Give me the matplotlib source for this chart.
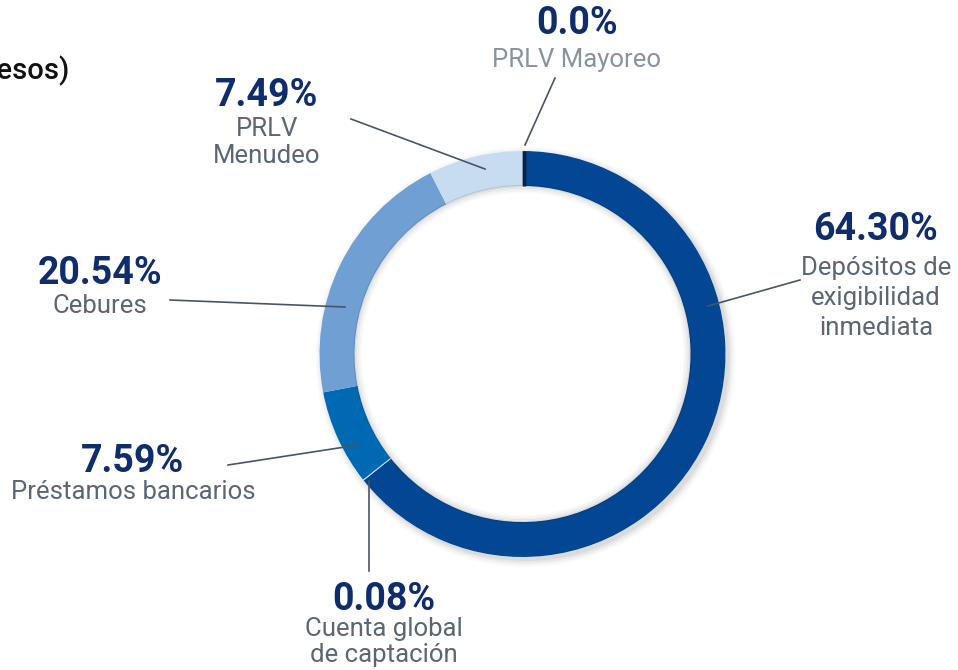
import matplotlib.pyplot as plt
import numpy as np

plt.rcParams['font.family'] = ['Roboto', 'DejaVu Sans']

# Datos de la captación (%)
categorias = ['Depósitos de\nexigibilidad\ninmediata', 'Cuenta global\nde captación',
              'Préstamos bancarios', 'Cebures', 'PRLV\nMenudeo', 'PRLV Mayoreo']
valores = [64.30, 0.08, 7.59, 20.54, 7.49, 0.0]
etiquetas = ['64.30%', '0.08%', '7.59%', '20.54%', '7.49%', '0.0%']
colores = ['#024694', '#cfe0f2', '#0069b3', '#6f9fd3', '#c7dcf1', '#0b1f45']

W, H = 958, 670
cx, cy = 522.5, H - 354
R = 203
ancho = 35

fig = plt.figure(figsize=(W / 100, H / 100), dpi=100)
ax = fig.add_axes([0, 0, 1, 1])

# sombra suave
for i, a in enumerate([0.05, 0.04, 0.03, 0.02]):
    sombra = plt.Circle((cx + 3, cy - 3), R + 1 + i * 2, color='black', alpha=a, lw=0)
    ax.add_patch(sombra)
ax.add_patch(plt.Circle((cx, cy), R, color='white', lw=0))

ax.pie(valores, colors=colores, startangle=90, counterclock=False,
       center=(cx, cy), radius=R,
       wedgeprops=dict(width=ancho, linewidth=0))

# sombra interior
for i, a in enumerate([0.10, 0.07, 0.05, 0.03, 0.02]):
    ax.add_patch(plt.Circle((cx, cy), R - ancho - i * 1.5, fill=False,
                            ec='black', alpha=a, lw=1.6))

# línea para el segmento de 0.0%
ang = np.deg2rad(90 - sum(valores[:-1]) / 100 * 360)
ax.plot([cx + (R - ancho) * np.cos(ang) + 1.5, cx + R * np.cos(ang) + 1.5],
        [cy + (R - ancho) * np.sin(ang), cy + R * np.sin(ang)],
        color=colores[-1], lw=2.5, solid_capstyle='butt')


def py(y):
    return H - y


# líneas guía
guias = [((708, 306), (800, 280)),
         ((369, 481), (369, 571)),
         ((358, 445), (228, 465)),
         ((345, 307), (170, 300)),
         ((485, 169), (351, 119)),
         ((525, 145), (555, 78))]
for (x1, y1), (x2, y2) in guias:
    ax.plot([x1, x2], [py(y1), py(y2)], color='#4a5562', lw=1.2)

pos = [(876, 230), (384, 599), (133, 462), (100, 273), (267, 95), (577, 24)]
gris = ['#5c6672'] * 5 + ['#8a939c']
espacio = [1.32, 1.08, 1.2, 1.2, 1.15, 1.2]
desplaza = [26, 18, 18, 21, 22, 24]
for lab, cat, (x, y), g, ls, d in zip(etiquetas, categorias, pos, gris, espacio, desplaza):
    ax.text(x, py(y), lab, ha='center', va='center', fontsize=27,
            fontweight='bold', color='#0f2d6b')
    ax.text(x, py(y + d), cat, ha='center', va='top', fontsize=18.5,
            color=g, linespacing=ls)

ax.text(69, py(71), 'Captación (millones de pesos)', ha='right', va='center',
        fontsize=21, fontweight='medium', color='#111111')

ax.set_xlim(0, W)
ax.set_ylim(0, H)
ax.set_aspect('equal')
ax.axis('off')

fig.savefig('out.png', dpi=100)
